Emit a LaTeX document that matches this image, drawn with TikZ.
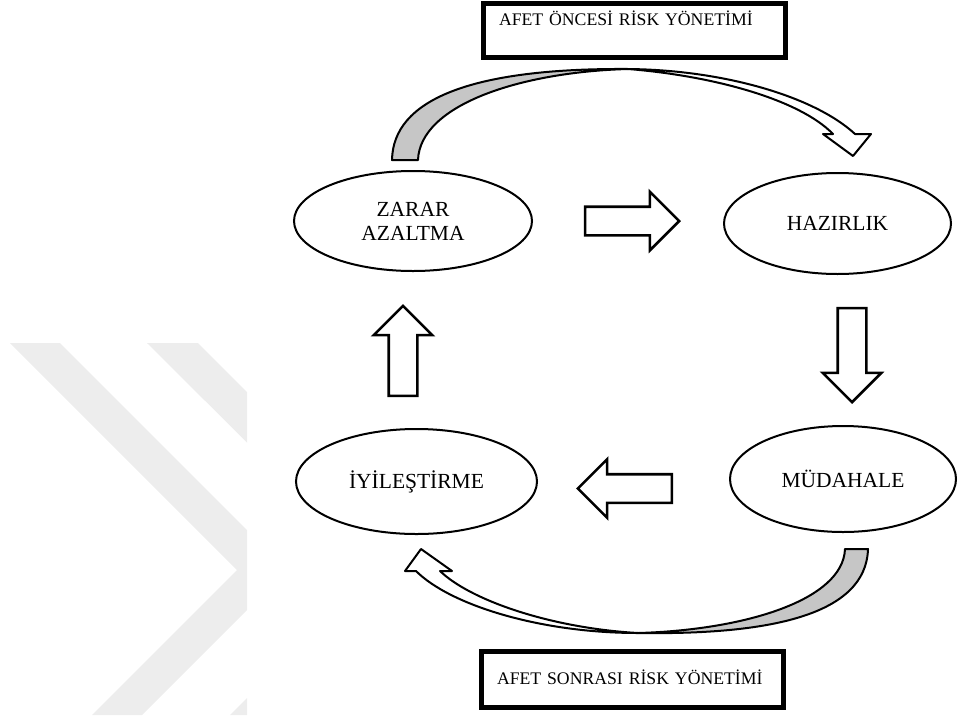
\documentclass[tikz,border=0pt]{standalone}
\usepackage{fontspec}
\setmainfont{Liberation Serif}
\usepackage{tikz}
\usetikzlibrary{shapes, arrows, positioning}

\begin{document}
\begin{tikzpicture}[x=1pt, y=-1pt,
        phase/.style={draw, ellipse, line width=2pt, inner sep=0pt, align=center, font=\fontsize{21.5}{24}\selectfont},
        blockarrow/.style={draw, single arrow, line width=2.6pt, fill=white, inner sep=13pt, single arrow head extend=15pt, minimum height=94pt},
        riskbox/.style={draw, rectangle, line width=5pt, anchor=north west, outer sep=0pt, inner xsep=16pt, inner ysep=0pt, text width=270pt, align=left, font=\fontsize{17.7}{20}\selectfont},
        ribbon/.style={draw, line width=2pt, line join=round}]
        \useasboundingbox (0,0) rectangle (963,715);

        \begin{scope}
            \clip (0,343) rectangle (247,715);
            \fill[gray!14] (10,343) -- (60,343) -- (287,570) -- (142,715) -- (92,715) -- (237,570) -- cycle;
            \fill[gray!14] (147,343) -- (198,343) -- (425,570) -- (280,715) -- (230,715) -- (375,570) -- cycle;
        \end{scope}

        \node (oncesi) [riskbox, text height=22.5pt, text depth=32pt] at (483,3) {AFET ÖNCESİ RİSK YÖNETİMİ};
        \node (sonrasi) [riskbox, text height=33pt, text depth=23.5pt] at (481,651) {AFET SONRASI RİSK YÖNETİMİ};

        \node (zarar) [phase, minimum width=238pt, minimum height=100pt] at (413,221) {ZARAR\\AZALTMA};
        \node (hazirlik) [phase, minimum width=227pt, minimum height=101pt] at (837.5,223.5) {HAZIRLIK};
        \node (mudahale) [phase, minimum width=226pt, minimum height=106pt] at (843,479) {MÜDAHALE};
        \node (iyilestirme) [phase, minimum width=241pt, minimum height=105pt] at (416.5,481.5) {İYİLEŞTİRME};

        \node (ileri) [blockarrow] at (625,221) {};
        \node (asagi) [blockarrow, rotate=-90] at (852,348) {};
        \node (geri) [blockarrow, rotate=180] at (632,488.5) {};
        \node (yukari) [blockarrow, rotate=90, minimum height=90pt] at (403,358) {};

        \draw[ribbon, fill=gray!45] (418,160) -- (392,160) .. controls (393,100) and (470,68) .. (628,69) .. controls (520,72) and (420,105) .. (418,160) -- cycle;
        \draw[ribbon, fill=white] (628,69) .. controls (725,70) and (815,97) .. (855,134) -- (871,134) -- (853,156) -- (823,134) -- (833,134) .. controls (800,100) and (715,76) .. (628,69) -- cycle;

        \draw[ribbon, fill=gray!45] (845,549) -- (868,549) .. controls (866,615) and (770,635) .. (638,633) .. controls (745,630) and (843,600) .. (845,549) -- cycle;
        \draw[ribbon, fill=white] (638,633) .. controls (540,633) and (450,605) .. (416,571) -- (405,571) -- (421,549) -- (452,571) -- (440,571) .. controls (470,600) and (550,628) .. (638,633) -- cycle;
    \end{tikzpicture}
\end{document}
